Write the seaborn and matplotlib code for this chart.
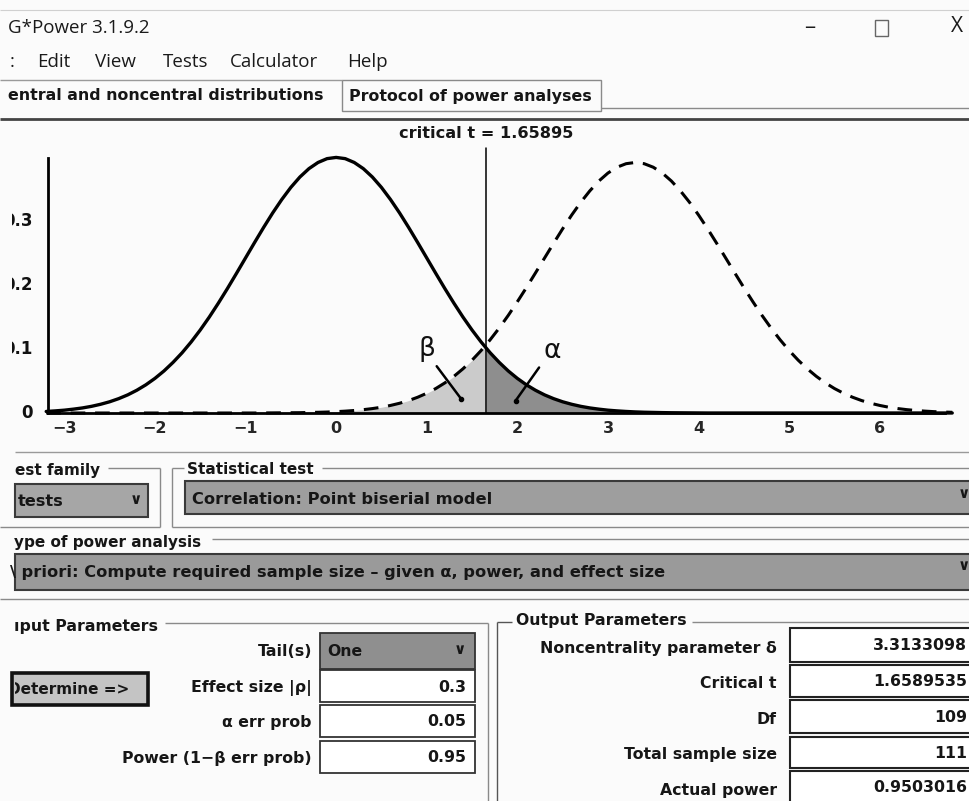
import numpy as np
import matplotlib
matplotlib.use("Agg")
import matplotlib.pyplot as plt
from matplotlib.patches import Rectangle
from matplotlib.ticker import MultipleLocator
from matplotlib.transforms import Bbox, TransformedBbox
import seaborn as sns

sns.set_style("white")
plt.rcParams["font.family"] = ["DejaVu Sans"]

# ---------------- data ----------------
t_grid = [-3.2, -3.1, -3.0, -2.9, -2.8, -2.7, -2.6, -2.5, -2.4, -2.3, -2.2, -2.1,
          -2.0, -1.9, -1.8, -1.7, -1.6, -1.5, -1.4, -1.3, -1.2, -1.1, -1.0, -0.9,
          -0.8, -0.7, -0.6, -0.5, -0.4, -0.3, -0.2, -0.1, 0.0, 0.1, 0.2, 0.3, 0.4,
          0.5, 0.6, 0.7, 0.8, 0.9, 1.0, 1.1, 1.2, 1.3, 1.4, 1.5, 1.6, 1.7, 1.8,
          1.9, 2.0, 2.1, 2.2, 2.3, 2.4, 2.5, 2.6, 2.7, 2.8, 2.9, 3.0, 3.1, 3.2,
          3.3, 3.4, 3.5, 3.6, 3.7, 3.8, 3.9, 4.0, 4.1, 4.2, 4.3, 4.4, 4.5, 4.6,
          4.7, 4.8, 4.9, 5.0, 5.1, 5.2, 5.3, 5.4, 5.5, 5.6, 5.7, 5.8, 5.9, 6.0,
          6.1, 6.2, 6.3, 6.4, 6.5, 6.6, 6.7, 6.8]
central_density = [
    0.0024, 0.0033, 0.0044, 0.0060, 0.0079, 0.0104, 0.0136, 0.0175, 0.0224, 0.0283,
    0.0355, 0.0440, 0.0540, 0.0656, 0.0790, 0.0940, 0.1109, 0.1295, 0.1497, 0.1714,
    0.1942, 0.2179, 0.2420, 0.2661, 0.2897, 0.3123, 0.3332, 0.3521, 0.3683, 0.3814,
    0.3910, 0.3970, 0.3989, 0.3970, 0.3910, 0.3814, 0.3683, 0.3521, 0.3332, 0.3123,
    0.2897, 0.2661, 0.2420, 0.2179, 0.1942, 0.1714, 0.1497, 0.1295, 0.1109, 0.0940,
    0.0790, 0.0656, 0.0540, 0.0440, 0.0355, 0.0283, 0.0224, 0.0175, 0.0136, 0.0104,
    0.0079, 0.0060, 0.0044, 0.0033, 0.0024, 0.0017, 0.0012, 0.0009, 0.0006, 0.0004,
    0.0003, 0.0002, 0.0001, 0.0, 0.0, 0.0, 0.0, 0.0, 0.0, 0.0, 0.0, 0.0, 0.0, 0.0,
    0.0, 0.0, 0.0, 0.0, 0.0, 0.0, 0.0, 0.0, 0.0, 0.0, 0.0, 0.0, 0.0, 0.0, 0.0, 0.0,
    0.0]
noncentral_density = [
    0.0, 0.0, 0.0, 0.0, 0.0, 0.0, 0.0, 0.0, 0.0, 0.0, 0.0, 0.0, 0.0, 0.0, 0.0, 0.0,
    0.0, 0.0, 0.0, 0.0, 0.0, 0.0, 0.0, 0.0,
    0.0001, 0.0002, 0.0003, 0.0004, 0.0005, 0.0008, 0.0011, 0.0015, 0.0021, 0.0029,
    0.0039, 0.0052, 0.0069, 0.0090, 0.0118, 0.0152, 0.0194, 0.0246, 0.0308, 0.0382,
    0.0470, 0.0572, 0.0690, 0.0824, 0.0975, 0.1143, 0.1326, 0.1524, 0.1736, 0.1957,
    0.2186, 0.2418, 0.2649, 0.2875, 0.3090, 0.3289, 0.3467, 0.3621, 0.3745, 0.3836,
    0.3891, 0.3910, 0.3891, 0.3836, 0.3745, 0.3621, 0.3467, 0.3289, 0.3090, 0.2875,
    0.2649, 0.2418, 0.2186, 0.1957, 0.1736, 0.1524, 0.1326, 0.1143, 0.0975, 0.0824,
    0.0690, 0.0572, 0.0470, 0.0382, 0.0308, 0.0246, 0.0194, 0.0152, 0.0118, 0.0090,
    0.0069, 0.0052, 0.0039, 0.0029, 0.0021, 0.0015, 0.0011]
critical_t = 1.65895
x_ticks = [-3, -2, -1, 0, 1, 2, 3, 4, 5, 6]
y_ticks = [0, 0.1, 0.2, 0.3]
y_tick_labels = ["0", "0.1", "0.2", "0.3"]

window_title = "G*Power 3.1.9.2"
menu_items = [":", "Edit", "View", "Tests", "Calculator", "Help"]
tab_labels = ["entral and noncentral distributions", "Protocol of power analyses"]
test_family = "tests"
statistical_test = "Correlation: Point biserial model"
analysis_type = "\\ priori: Compute required sample size – given α, power, and effect size"
input_labels = ["Tail(s)", "Effect size |ρ|", "α err prob", "Power (1−β err prob)"]
input_values = ["One", "0.3", "0.05", "0.95"]
output_labels = ["Noncentrality parameter δ", "Critical t", "Df",
                 "Total sample size", "Actual power"]
output_values = ["3.3133098", "1.6589535", "109", "111", "0.9503016"]

# ---------------- figure ----------------
W, H = 969, 801
fig = plt.figure(figsize=(W / 100, H / 100), dpi=100)
fig.patch.set_facecolor("#fbfbfb")

gui = fig.add_axes([0, 0, 1, 1], zorder=0)
gui.set_xlim(0, W)
gui.set_ylim(H, 0)
gui.axis("off")

BOLD = dict(fontweight="bold", family="DejaVu Sans", color="#161616")
REG = dict(family="Open Sans", color="#1a1a1a")


def hline(x0, x1, y, lw=1.0, c="#8a8a8a"):
    gui.plot([x0, x1], [y, y], color=c, lw=lw, solid_capstyle="butt")


def vline(x, y0, y1, lw=1.0, c="#8a8a8a"):
    gui.plot([x, x], [y0, y1], color=c, lw=lw, solid_capstyle="butt")


def box(x0, y0, x1, y1, fc, ec="#333333", lw=1.3):
    r = Rectangle((x0, y0), x1 - x0, y1 - y0, facecolor=fc, edgecolor=ec, lw=lw)
    gui.add_patch(r)
    return r


# title bar
hline(0, W, 10, lw=0.8, c="#d0d0d0")
gui.text(8, 28, window_title, fontsize=13.5, va="center", ha="left", **REG)
gui.text(810, 27, "–", fontsize=16, va="center", ha="center", **REG)
gui.add_patch(Rectangle((875, 20), 13, 16, facecolor="none", edgecolor="#666666", lw=1))
gui.text(957, 26, "X", fontsize=15, va="center", ha="center", **REG)

# menu bar
menu_x = [10, 37, 95, 163, 230, 347]
for mx, item in zip(menu_x, menu_items):
    gui.text(mx, 62, item, fontsize=13.5, va="center", ha="left", **REG)

# tabs
hline(0, 342, 80, lw=1.0, c="#9a9a9a")
gui.add_patch(Rectangle((342, 80), 259, 31, facecolor="none", edgecolor="#8a8a8a", lw=1.0))
hline(601, W, 108, lw=1.0, c="#8a8a8a")
hline(0, W, 119, lw=2.0, c="#444444")
gui.text(8, 96, tab_labels[0], fontsize=11.4, va="center", ha="left", **BOLD)
gui.text(349, 96, tab_labels[1], fontsize=11.4, va="center", ha="left", **BOLD)
gui.text(486, 134, f"critical t = {critical_t}", fontsize=11.6, va="center",
         ha="center", **BOLD)

# ---------------- distribution plot ----------------
ax = fig.add_axes([48 / W, (H - 413) / H, 897 / W, 255 / H], zorder=2)
ax.patch.set_alpha(0)
ax.set_xlim(-3.18, 6.72)
ax.set_ylim(0, 0.398)

x = np.asarray(t_grid)
yc = np.asarray(central_density)
yn = np.asarray(noncentral_density)
yn_crit = np.interp(critical_t, x, yn)
yc_crit = np.interp(critical_t, x, yc)

left = x < critical_t
ax.fill_between(np.r_[x[left], critical_t], 0, np.r_[yn[left], yn_crit],
                color="#cbcbcb", lw=0, zorder=1)
ax.fill_between(np.r_[critical_t, x[~left]], 0, np.r_[yc_crit, yc[~left]],
                color="#8e8e8e", lw=0, zorder=1)

sns.lineplot(x=t_grid, y=noncentral_density, ax=ax, color="black", linewidth=2.2,
             linestyle=(0, (4.8, 3.2)), zorder=3, clip_on=False)
sns.lineplot(x=t_grid, y=central_density, ax=ax, color="black", linewidth=2.4,
             zorder=4, clip_on=False)
ax.plot([critical_t, critical_t], [0, 0.413], color="black", lw=1.1,
        clip_on=False, zorder=5)

ax.text(1.0, 0.10, "β", fontsize=19, ha="center", va="center", color="#111111")
ax.plot([1.11, 1.38], [0.073, 0.022], color="black", lw=1.8, zorder=6)
ax.plot([1.38], [0.022], "o", color="black", ms=3, zorder=6)
ax.text(2.38, 0.097, "α", fontsize=19, ha="center", va="center", color="#111111")
ax.plot([2.24, 1.98], [0.071, 0.019], color="black", lw=1.8, zorder=6)
ax.plot([1.98], [0.019], "o", color="black", ms=3, zorder=6)

for s in ["top", "right"]:
    ax.spines[s].set_visible(False)
for s in ["left", "bottom"]:
    ax.spines[s].set_color("black")
    ax.spines[s].set_linewidth(2.0)
ax.set_xticks(x_ticks)
ax.set_yticks(y_ticks)
ax.set_yticklabels([])
ax.xaxis.set_minor_locator(MultipleLocator(0.5))
ax.yaxis.set_minor_locator(MultipleLocator(0.05))
ax.tick_params(axis="both", which="major", direction="out", length=7, width=1.6,
               color="black", labelsize=11.5)
ax.tick_params(axis="x", pad=-1)
ax.tick_params(axis="both", which="minor", direction="out", length=4, width=1.4,
               color="black")
for lab in ax.get_xticklabels():
    lab.set_fontweight("bold")
ax.set_xlabel("")
ax.set_ylabel("")

# y tick labels, cut off by the left window edge as in the screenshot
clip = TransformedBbox(Bbox.from_extents(12 / W, 0, 1, 1), fig.transFigure)
for v, lab in zip(y_ticks, y_tick_labels):
    t = ax.text(-15 / 897, v, lab, transform=ax.get_yaxis_transform(), ha="right",
                va="center", fontsize=12, fontweight="bold", color="#111111")
    t.set_clip_on(True)
    t.set_clip_box(clip)

# ---------------- lower panel ----------------
hline(15, W, 452, lw=1.0, c="#9a9a9a")
# test family group
gui.text(15, 470, "est family", fontsize=11, va="center", ha="left", **BOLD)
hline(108, 160, 468)
vline(160, 468, 527)
hline(0, 160, 527)
box(15, 484, 148, 517, "#a6a6a6", ec="#3a3a3a", lw=1.5)
gui.text(18, 501, test_family, fontsize=11.6, va="center", ha="left", **BOLD)
gui.text(136, 499, "∨", fontsize=11, va="center", ha="center", **BOLD)
# statistical test group
gui.text(187, 469, "Statistical test", fontsize=11, va="center", ha="left", **BOLD)
hline(172, 184, 468)
hline(322, W, 468)
vline(172, 468, 527)
hline(172, W, 527)
box(185, 481, W + 5, 514, "#9e9e9e", ec="#3a3a3a", lw=1.5)
gui.text(192, 499, statistical_test, fontsize=11.7, va="center", ha="left", **BOLD)
gui.text(964, 493, "∨", fontsize=11, va="center", ha="center", **BOLD)
# type of power analysis
gui.text(14, 542, "ype of power analysis", fontsize=11, va="center", ha="left", **BOLD)
hline(212, W, 539)
box(15, 554, W + 5, 590, "#9a9a9a", ec="#3a3a3a", lw=1.5)
gui.text(10, 572, analysis_type, fontsize=11.7, va="center", ha="left", **BOLD)
gui.text(964, 566, "∨", fontsize=11, va="center", ha="center", **BOLD)
hline(0, W, 599)

# input parameters
gui.text(14, 626, "ıput Parameters", fontsize=11.3, va="center", ha="left", **BOLD)
hline(165, 488, 623)
vline(488, 623, H)
in_y = [652, 688, 723, 759]
in_box = [(633, 669), (670, 702), (705, 737), (741, 773)]
for lab, val, yy, (b0, b1) in zip(input_labels, input_values, in_y, in_box):
    gui.text(312, yy, lab, fontsize=11.3, va="center", ha="right", **BOLD)
    if lab.startswith("Tail"):
        box(320, b0, 475, b1, "#8f8f8f", ec="#333333", lw=1.3)
        gui.text(327, yy, val, fontsize=11.3, va="center", ha="left", **BOLD)
        gui.text(460, yy - 2, "∨", fontsize=11, va="center", ha="center", **BOLD)
    else:
        box(320, b0, 475, b1, "white", ec="#333333", lw=1.3)
        gui.text(466, yy - 1, val, fontsize=11.3, va="center", ha="right", **BOLD)
# determine button (its left part is cut by the window edge)
box(12, 673, 148, 705, "#c4c4c4", ec="#111111", lw=2.6)
bt = gui.text(8, 689, "Determine =>", fontsize=11, va="center", ha="left", **BOLD)
bt.set_clip_on(True)
bt.set_clip_box(TransformedBbox(Bbox.from_extents(15, 673, 148, 705), gui.transData))

# output parameters
vline(497, 622, H, lw=1.0, c="#555555")
hline(497, 512, 622, c="#555555")
hline(692, W, 622)
gui.text(516, 620, "Output Parameters", fontsize=11.3, va="center", ha="left", **BOLD)
out_y = [648, 683, 719, 755, 790]
out_box = [(628, 662), (665, 697), (700, 733), (737, 768), (771, 806)]
for lab, val, yy, (b0, b1) in zip(output_labels, output_values, out_y, out_box):
    gui.text(777, yy, lab, fontsize=11.3, va="center", ha="right", **BOLD)
    box(790, b0, W + 10, b1, "white", ec="#222222", lw=1.5)
    gui.text(967, yy - 2, val, fontsize=11.3, va="center", ha="right", **BOLD)

fig.savefig("out.png", dpi=100, facecolor=fig.get_facecolor())
